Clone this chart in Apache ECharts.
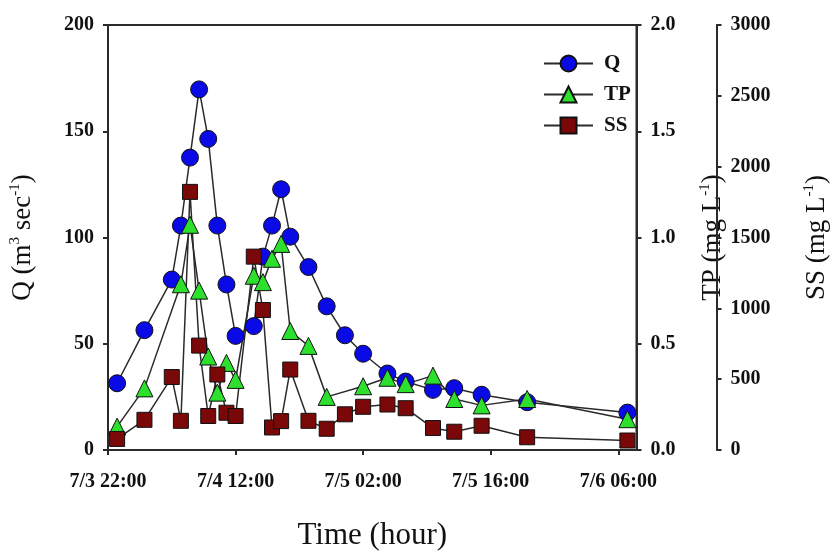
<!DOCTYPE html>
<html>
<head>
<meta charset="utf-8">
<script src="https://cdn.jsdelivr.net/npm/echarts@6/dist/echarts.min.js"></script>
<style>
  html, body { margin: 0; padding: 0; background: #fff; }
  #chart { width: 838px; height: 556px; }
</style>
</head>
<body>
<div id="chart"></div>
<script>
// Sampling times (month/day hour:minute); hours are counted from 7/3 22:00
const startTime = '7/3 22:00';
const times = [
  '7/3 23:00', '7/4 02:00', '7/4 05:00', '7/4 06:00', '7/4 07:00', '7/4 08:00',
  '7/4 09:00', '7/4 10:00', '7/4 11:00', '7/4 12:00', '7/4 14:00', '7/4 15:00',
  '7/4 16:00', '7/4 17:00', '7/4 18:00', '7/4 20:00', '7/4 22:00', '7/5 00:00',
  '7/5 02:00', '7/5 04:40', '7/5 06:40', '7/5 09:40', '7/5 12:00', '7/5 15:00',
  '7/5 20:00', '7/6 07:00'
];
// Discharge Q (m3/sec)
const qValues = [
  31.4, 56.4, 80.2, 105.6, 137.6, 169.7,
  146.4, 105.6, 77.9, 53.7, 58.3, 91.0,
  105.6, 122.7, 100.4, 86.1, 67.6, 54.0,
  45.3, 36.0, 32.2, 28.3, 29.1, 26.0,
  22.5, 17.6
];
// Total phosphorus TP (mg/L); null where not sampled
const tpValues = [
  0.11, 0.29, null, 0.78, 1.06, 0.75,
  0.44, 0.27, 0.41, 0.33, 0.82, 0.79,
  0.90, 0.97, 0.56, 0.49, 0.25, null,
  0.30, 0.34, 0.31, 0.35, 0.24, 0.21,
  0.24, 0.145
];
// Suspended solids SS (mg/L)
const ssValues = [
  78, 213, 515, 206, 1822, 737,
  240, 533, 263, 240, 1365, 988,
  159, 204, 568, 206, 150, 252,
  305, 321, 295, 155, 129, 171,
  90, 67
];
// Time axis labels, one every 14 hours
const timeTicks = ['7/3 22:00', '7/4 12:00', '7/5 02:00', '7/5 16:00', '7/6 06:00'];

function toHours(s) {
  const [date, clock] = s.split(' ');
  const day = +date.split('/')[1];
  const [h, m] = clock.split(':').map(Number);
  return day * 24 + h + m / 60;
}
const t0 = toHours(startTime);
const pairs = vals => times.map((t, i) => [toHours(t) - t0, vals[i]]);

const serif = 'Liberation Serif, Times New Roman, serif';
const ink = '#111';
const tickFont = { color: ink, fontFamily: serif, fontWeight: 'bold', fontSize: 20 };
const axisLine = { show: true, lineStyle: { color: '#2a2a2a', width: 2 } };
const axisTick = { show: true, inside: false, length: 5, lineStyle: { color: '#2a2a2a', width: 2 } };
const titleRich = {
  a: { fontFamily: serif, fontSize: 27, color: ink, lineHeight: 30 },
  s: { fontFamily: serif, fontSize: 15, color: ink, verticalAlign: 'top', lineHeight: 30 }
};

const chart = echarts.init(document.getElementById('chart'), null, { renderer: 'canvas' });
chart.setOption({
  animation: false,
  backgroundColor: '#ffffff',
  grid: { left: 105, right: 181, top: 25, bottom: 98, show: true, borderColor: '#2a2a2a', borderWidth: 2 },
  legend: {
    data: ['Q', 'TP', 'SS'],
    orient: 'vertical',
    left: 538,
    top: 48,
    itemWidth: 49,
    itemHeight: 20,
    itemGap: 10,
    textStyle: { color: ink, fontFamily: serif, fontWeight: 'bold', fontSize: 21, padding: [0, 0, 0, 6] }
  },
  xAxis: {
    type: 'value',
    min: 0,
    max: 58,
    interval: 14,
    axisLine, axisTick,
    splitLine: { show: false },
    axisLabel: Object.assign({ margin: 22, formatter: v => timeTicks[Math.round(v / 14)] || '' }, tickFont),
    name: 'Time (hour)',
    nameLocation: 'middle',
    nameGap: 70,
    nameTextStyle: { fontFamily: serif, fontSize: 31, color: ink }
  },
  yAxis: [
    {
      type: 'value', position: 'left', min: 0, max: 200, interval: 50,
      axisLine, axisTick, splitLine: { show: false },
      axisLabel: Object.assign({ margin: 14 }, tickFont),
      name: '{a|Q (m}{s|3}{a| sec}{s|-1}{a|)}',
      nameLocation: 'middle', nameRotate: 90, nameGap: 70,
      nameTextStyle: { rich: titleRich }
    },
    {
      type: 'value', position: 'right', min: 0, max: 2, interval: 0.5,
      axisLine, axisTick, splitLine: { show: false },
      axisLabel: Object.assign({ margin: 14, formatter: v => v.toFixed(1) }, tickFont),
      name: '{a|TP (mg L}{s|-1}{a|)}',
      nameLocation: 'middle', nameRotate: 90, nameGap: 61,
      nameTextStyle: { rich: titleRich }
    },
    {
      type: 'value', position: 'right', offset: 80, min: 0, max: 3000, interval: 500,
      axisLine, axisTick, splitLine: { show: false },
      axisLabel: Object.assign({ margin: 14, formatter: v => String(v) }, tickFont),
      name: '{a|SS (mg L}{s|-1}{a|)}',
      nameLocation: 'middle', nameRotate: 90, nameGap: 85,
      nameTextStyle: { rich: titleRich }
    }
  ],
  series: [
    {
      name: 'Q', type: 'line', yAxisIndex: 0, data: pairs(qValues),
      symbol: 'circle', symbolSize: 17, connectNulls: true,
      itemStyle: { color: '#0a0ae6', borderColor: '#111', borderWidth: 1 },
      lineStyle: { color: '#2a2a2a', width: 1.5 }
    },
    {
      name: 'TP', type: 'line', yAxisIndex: 1, data: pairs(tpValues),
      symbol: 'triangle', symbolSize: 17, connectNulls: true,
      itemStyle: { color: '#2ee02e', borderColor: '#111', borderWidth: 1 },
      lineStyle: { color: '#2a2a2a', width: 1.5 }
    },
    {
      name: 'SS', type: 'line', yAxisIndex: 2, data: pairs(ssValues),
      symbol: 'rect', symbolSize: 15, connectNulls: true,
      itemStyle: { color: '#7a0808', borderColor: '#111', borderWidth: 1 },
      lineStyle: { color: '#2a2a2a', width: 1.5 }
    }
  ]
});
</script>
</body>
</html>
